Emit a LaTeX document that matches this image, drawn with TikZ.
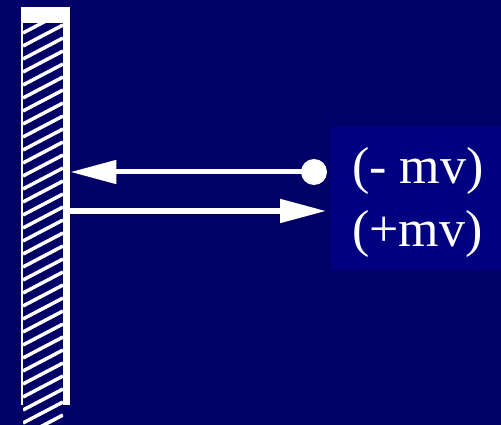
\documentclass[tikz,border=0pt]{standalone}
\usepackage{fontspec}
\setmainfont{Liberation Serif}
\usetikzlibrary{arrows.meta}
\definecolor{navy}{RGB}{0,0,102}
\definecolor{boxblue}{RGB}{0,0,128}

\begin{document}
\begin{tikzpicture}[x=1pt,y=-1pt,
  every node/.style={font=\fontsize{52}{60}\selectfont, text=white, inner sep=0pt},
  vec/.style={white, line width=5pt, -{Triangle[length=46pt,width=23pt]}}]
  \fill[navy] (0,0) rectangle (501,425);
  \fill[boxblue] (331,126) rectangle (501,270);
  \node[fill=white, minimum width=49pt, minimum height=398pt, anchor=north west] (wall) at (21,7) {};
  \fill[navy] (23,23) rectangle (63,425);
  \begin{scope}
    \clip (23,23) rectangle (63,425);
    \foreach \y in {20,33,...,460}
      \draw[white, line width=3.5pt] (23,\y) -- (63,\y-21);
  \end{scope}
  \node[circle, fill=white, minimum size=26pt] (dot) at (314,172) {};
  \coordinate (tip) at (326,211);
  \draw[vec] (dot.center) -- (dot.center -| wall.east);
  \draw[vec] (tip -| wall.east) -- (tip);
  \node[anchor=base west] (minus) at (352,184) {(- mv)};
  \node[anchor=base west] (plus) at (352,247) {(+mv)};
\end{tikzpicture}
\end{document}
